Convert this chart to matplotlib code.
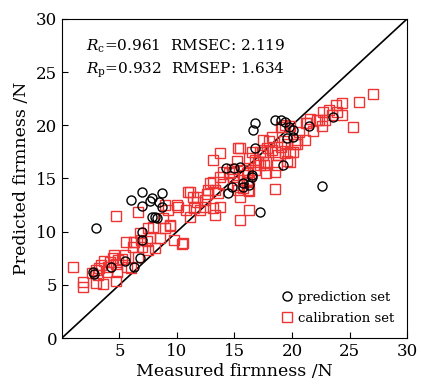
import numpy as np
import matplotlib
matplotlib.use('Agg')
import matplotlib.pyplot as plt

plt.rcParams['font.family'] = 'DejaVu Serif'
plt.rcParams['mathtext.fontset'] = 'dejavuserif'

# calibration set (measured, predicted)
cal_x = [1.0, 1.8, 1.8, 3.0, 3.6, 3.0, 3.2, 3.1, 3.7, 3.9, 4.0, 4.5, 4.4, 4.8, 4.7, 5.5,
         5.7, 6.0, 5.6, 6.3, 6.9, 6.8, 7.4, 7.5, 6.6, 4.9, 4.7, 4.7, 6.6,
         7.5, 7.9, 9.4, 7.7, 8.5, 8.1, 9.7, 10.4, 12.4, 10.1, 9.2, 9.0, 10.0, 8.8, 9.4, 9.0,
         6.3, 7.0, 6.2, 11.1, 11.7, 11.1,
         15.3, 16.5, 17.5, 18.3, 18.5, 19.0, 19.6, 20.1, 20.3, 19.4, 19.6, 18.7, 17.7, 17.2,
         16.8, 17.7, 16.2, 15.7, 14.9, 14.0, 13.7, 13.1, 12.9, 12.7, 13.3, 13.6, 11.0, 11.4,
         11.7, 12.4, 13.1, 13.7, 13.3, 10.5, 16.3, 15.5, 18.5, 16.2, 15.3, 15.5, 16.1, 13.1, 13.7,
         21.2, 22.2, 20.4, 18.3, 17.5, 19.1, 19.8, 19.8, 18.8, 17.8, 17.5, 16.3, 15.5, 15.2,
         17.0, 17.6, 18.5, 16.1, 14.9, 16.3, 15.2, 15.7, 16.3,
         27.0, 25.8, 24.3, 23.8, 23.9, 24.3, 23.2, 22.7, 22.3, 22.9, 22.6, 23.5, 25.3, 21.3,
         21.1, 20.4, 19.4, 19.0, 19.8,
         14.0, 14.5, 12.0, 11.5, 10.8, 15.8, 16.8, 17.2, 18.0, 19.3, 20.6, 21.6, 21.8,
         3.4, 2.6, 4.2, 5.2, 14.8, 12.6]
cal_y = [6.7, 5.3, 4.8, 5.2, 5.1, 6.4, 6.6, 5.9, 7.2, 6.2, 6.7, 7.8, 7.5, 6.2, 7.0, 7.8,
         6.7, 6.6, 9.0, 9.0, 9.2, 9.9, 9.1, 8.3, 7.6, 7.3, 5.4, 11.5, 11.8,
         10.3, 10.4, 10.5, 9.4, 9.4, 8.5, 9.2, 8.8, 12.3, 12.3, 12.0, 12.5, 12.5, 11.3, 10.6, 10.3,
         9.0, 8.6, 8.6, 13.7, 13.3, 11.4,
         17.9, 17.5, 17.5, 17.7, 17.5, 18.0, 18.2, 17.5, 18.2, 17.4, 16.6, 16.3, 16.5, 16.3,
         16.7, 15.5, 15.6, 15.8, 15.6, 15.6, 15.1, 14.7, 14.6, 13.9, 13.9, 13.6, 13.7, 13.3,
         12.8, 13.0, 12.2, 12.3, 11.6, 8.9, 12.0, 11.1, 14.0, 13.9, 13.9, 13.3, 14.7, 16.7, 17.4,
         20.2, 20.5, 18.6, 18.9, 18.6, 19.8, 17.5, 16.5, 17.2, 17.9, 17.2, 16.9, 17.9, 16.6,
         16.5, 16.3, 15.6, 15.5, 15.1, 14.9, 14.4, 14.1, 13.8,
         22.9, 22.2, 22.1, 21.9, 21.2, 21.0, 21.4, 21.2, 20.5, 20.5, 19.9, 21.0, 19.8, 20.2,
         18.6, 18.2, 20.0, 19.8, 19.9,
         14.5, 15.5, 12.0, 12.2, 12.0, 15.3, 15.8, 17.5, 18.5, 18.5, 19.4, 20.6, 19.5,
         6.9, 6.1, 7.1, 7.4, 15.9, 13.5]

# prediction set (measured, predicted)
pre_x = [3.0, 2.7, 2.8, 4.3, 5.5, 6.3, 6.8, 7.0, 7.0, 6.0, 7.0, 7.0, 7.8, 7.7, 8.7, 8.4,
         8.7, 7.8, 8.1, 8.3, 14.3, 14.4, 14.8, 15.0, 15.5, 15.7, 16.5, 16.3, 18.5, 19.0,
         19.4, 16.8, 16.6, 19.7, 20.1, 21.5, 20.1, 19.6, 16.8, 19.2, 16.5, 15.7, 22.6,
         17.2, 23.6]
pre_y = [10.3, 6.2, 6.0, 6.7, 7.2, 6.7, 7.5, 10.0, 9.2, 13.0, 13.7, 12.4, 13.2, 12.9, 13.6,
         12.8, 12.3, 11.4, 11.4, 11.3, 16.0, 13.6, 14.2, 16.0, 16.1, 14.2, 15.1, 14.4, 20.5,
         20.5, 20.3, 20.2, 19.6, 19.8, 19.6, 19.9, 18.9, 18.8, 17.9, 16.3, 15.3, 14.6, 14.3,
         11.8, 20.8]

fig = plt.figure(figsize=(4.21, 3.85), dpi=100)
ax = fig.add_axes([0.147, 0.122, 0.820, 0.829])

ax.plot([0, 30], [0, 30], color='black', lw=1.2, zorder=1)
ax.plot(pre_x, pre_y, 'o', mfc='none', mec='black', ms=6.5, mew=1.0,
        label='prediction set', zorder=3)
ax.plot(cal_x, cal_y, 's', mfc='none', mec='#ee3333', ms=6.5, mew=1.0,
        label='calibration set', zorder=2)

ax.set_xlim(0, 30)
ax.set_ylim(0, 30)
ax.set_xticks([5, 10, 15, 20, 25, 30])
ax.set_yticks([0, 5, 10, 15, 20, 25, 30])
ax.tick_params(direction='in', labelsize=12, length=4)

ax.set_xlabel('Measured firmness /N', fontsize=12.5, labelpad=2)
ax.set_ylabel('Predicted firmness /N', fontsize=12.5, labelpad=4)

ax.text(2.1, 27.4, r'$R_{\rm c}$=0.961  RMSEC: 2.119', fontsize=11, va='center')
ax.text(2.1, 25.2, r'$R_{\rm p}$=0.932  RMSEP: 1.634', fontsize=11, va='center')

ax.legend(loc='lower right', bbox_to_anchor=(1.0, 0.0), frameon=False,
          fontsize=9.5, handletextpad=0.3, handlelength=1.0, borderaxespad=0.6,
          labelspacing=0.6)

fig.savefig('out.png', dpi=100)
